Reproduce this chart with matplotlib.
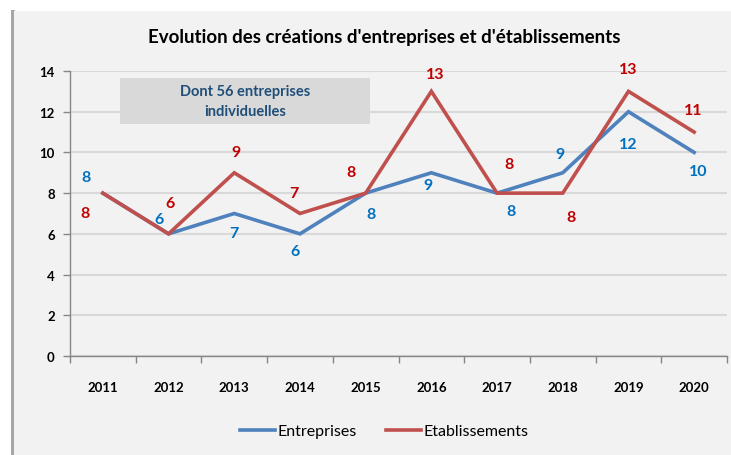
import matplotlib.pyplot as plt
from matplotlib.patches import Rectangle
from matplotlib.lines import Line2D

plt.rcParams['font.family'] = ['Lato', 'DejaVu Sans']

years = ['2011', '2012', '2013', '2014', '2015', '2016', '2017', '2018', '2019', '2020']
entreprises = [8, 6, 7, 6, 8, 9, 8, 9, 12, 10]
etablissements = [8, 6, 9, 7, 8, 13, 8, 8, 13, 11]

# label offsets in pixels (dx, dy), one per point
off_ent = [(-17, 16), (-10, 15), (0, -20), (-5, -17), (5, -21),
           (-3, -12), (14, -18), (-3, 19), (0, -32), (4, -19)]
off_eta = [(-18, -20), (1, 31), (2, 21), (-6, 21), (-15, 21),
           (4, 17), (12, 29), (8, -24), (0, 22), (-1, 22)]

BLUE = '#4F81BD'
RED = '#C0504D'
BLUE_TXT = '#0070C0'
RED_TXT = '#C00000'
BG = '#F2F2F2'

fig = plt.figure(figsize=(7.31, 4.56), dpi=100)
fig.patch.set_facecolor('white')

# chart area background with a soft left shadow
W, H = 731, 456
fig.patches.append(Rectangle((11 / W, 0), 4 / W, 1 - 11 / H, transform=fig.transFigure,
                             facecolor='#A6A6A6', edgecolor='none', zorder=0))
fig.patches.append(Rectangle((14 / W, 0), 1, 1 - 12 / H, transform=fig.transFigure,
                             facecolor=BG, edgecolor='none', zorder=0))

ax = fig.add_axes([70 / W, (H - 357) / H, (727 - 70) / W, (357 - 72) / H])
ax.set_zorder(2)
ax.patch.set_alpha(0)

x = list(range(len(years)))
ax.plot(x, entreprises, color=BLUE, lw=2.6, solid_joinstyle='miter', zorder=3)
ax.plot(x, etablissements, color=RED, lw=2.6, solid_joinstyle='miter', zorder=3)

for xi, v, (dx, dy) in zip(x, entreprises, off_ent):
    ax.annotate(str(v), (xi, v), xytext=(dx, dy), textcoords='offset pixels',
                ha='center', va='center', color=BLUE_TXT, fontsize=11.5, fontweight='bold')
for xi, v, (dx, dy) in zip(x, etablissements, off_eta):
    ax.annotate(str(v), (xi, v), xytext=(dx, dy), textcoords='offset pixels',
                ha='center', va='center', color=RED_TXT, fontsize=11.5, fontweight='bold')

ax.set_xlim(-0.5, len(years) - 0.5)
ax.set_ylim(0, 14)
ax.set_yticks(range(0, 15, 2))
ax.set_xticks([i - 0.5 for i in range(len(years) + 1)])
ax.set_xticklabels([])
ax.set_xticks(x, minor=True)
ax.set_xticklabels(years, minor=True)
ax.tick_params(axis='x', which='minor', length=0, pad=18)
ax.tick_params(axis='x', which='major', length=5, color='#868686', width=1)
ax.tick_params(axis='y', length=5, color='#868686', width=1, pad=6)
for lab in ax.get_xticklabels(minor=True) + ax.get_yticklabels():
    lab.set_fontweight('bold')
    lab.set_fontsize(9.5)
    lab.set_color('black')

ax.grid(axis='y', color='#D9D9D9', lw=1.5, zorder=0)
ax.set_axisbelow(True)
for s in ['top', 'right']:
    ax.spines[s].set_visible(False)
for s in ['left', 'bottom']:
    ax.spines[s].set_color('#868686')
    ax.spines[s].set_linewidth(1)

# note box
fig.patches.append(Rectangle((120 / W, 1 - 125 / H), 250 / W, 46 / H, transform=fig.transFigure,
                             facecolor='#D9D9D9', edgecolor='none', zorder=2.5))
fig.text(245 / W, 1 - 102 / H, 'Dont 56 entreprises\nindividuelles', ha='center', va='center',
         color='#1F4E79', fontsize=10.5, fontweight='bold', linespacing=1.55, zorder=3)

fig.text(384 / W, 1 - 38 / H, "Evolution des créations d'entreprises et d'établissements",
         ha='center', va='center', fontsize=13.5, fontweight='bold', zorder=3)

handles = [Line2D([], [], color=BLUE, lw=2.6), Line2D([], [], color=RED, lw=2.6)]
fig.legend(handles, ['Entreprises', 'Etablissements'], loc='center',
           bbox_to_anchor=(384 / W, 1 - 432 / H), ncol=2, frameon=False,
           fontsize=11.5, handlelength=2.2, columnspacing=1.8, handletextpad=0.15)

fig.savefig('out.png', dpi=100, facecolor=fig.get_facecolor())
